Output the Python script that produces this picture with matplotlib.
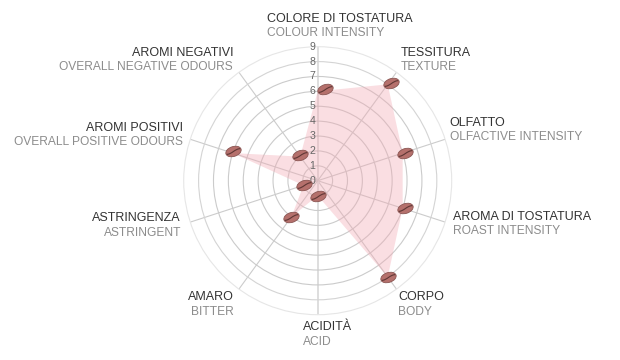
import numpy as np
import matplotlib
matplotlib.use("Agg")
import matplotlib.pyplot as plt
from matplotlib.markers import MarkerStyle
from matplotlib.path import Path
from matplotlib.transforms import Affine2D, ScaledTranslation

plt.rcParams["font.family"] = ["Liberation Sans", "DejaVu Sans"]

# One entry per spoke, clockwise from the top
labels_it = ["COLORE DI TOSTATURA", "TESSITURA", "OLFATTO", "AROMA DI TOSTATURA", "CORPO",
             "ACIDITÀ", "AMARO", "ASTRINGENZA", "AROMI POSITIVI", "AROMI NEGATIVI"]
labels_en = ["COLOUR INTENSITY", "TEXTURE", "OLFACTIVE INTENSITY", "ROAST INTENSITY", "BODY",
             "ACID", "BITTER", "ASTRINGENT", "OVERALL POSITIVE ODOURS", "OVERALL NEGATIVE ODOURS"]
values = [6, 8, 6, 6, 8, 1, 3, 1, 6, 2]
rings = [1, 2, 3, 4, 5, 6, 7, 8, 9]

# Label anchors in pixels from the top left: x, y of first line, alignment
label_x = [267, 401, 449.5, 453, 398, 303, 234, 181, 183, 233]
label_y = [19, 52.5, 122.5, 216.5, 297.5, 327.5, 297.5, 218.5, 127.5, 52.5]
label_ha = ["left"] * 6 + ["right"] * 4
# The bean images are not quite centred on their points
bean_dx = [7, 3, 2, 2, 0, 0, 0, 0, 0, 0]
bean_dy = [2, 1, 0, 0, 0, 0, 0, 0, 2, 2]

W, H = 620, 360
cx, cy, radius = 317.7, 180.7, 134

fig = plt.figure(figsize=(W / 100, H / 100), dpi=100)
ax = fig.add_axes([(cx - radius) / W, (H - cy - radius) / H, 2 * radius / W, 2 * radius / H],
                  projection="polar")
ax.set_theta_zero_location("N")
ax.set_theta_direction(-1)
ax.set_rlim(0, 9)
ax.set_axisbelow(True)

angles = np.deg2rad(np.arange(len(values)) * 36)
ax.set_xticks(angles)
ax.set_xticklabels([])
ax.set_yticks(rings)
ax.set_yticklabels([])
ax.tick_params(length=0)
ax.spines["polar"].set_visible(False)

# Rings fade towards the outside, the vertical spoke is paler and wider
for r, line in zip(rings, ax.yaxis.get_gridlines()):
    color = {8: "#d4d4d4", 9: "#e6e6e6"}.get(r, "#cbcbcb")
    line.set(color=color, linewidth=0.8, linestyle="-", clip_on=False)
for i, line in enumerate(ax.xaxis.get_gridlines()):
    if i in (0, 5):
        line.set(color="#dedede", linewidth=1.4, linestyle="-")
    else:
        line.set(color="#cccccc", linewidth=0.8, linestyle="-")

ax.fill(np.append(angles, angles[0]), values + values[:1], color="#f2a9b3", alpha=0.38,
        linewidth=0, zorder=2)

for r in [0] + rings:
    ax.annotate(str(r), (0, r), xytext=(-1.6, 0), textcoords="offset points", ha="right",
                va="center", fontsize=7.6, color="#666666", zorder=3, annotation_clip=False)

# Coffee bean marker: body, pale highlight and dark slit
rot = Affine2D().scale(1, 0.62).rotate_deg(18)
slit = Path([(-0.9, -0.12), (-0.35, -0.45), (0.3, 0.45), (0.9, 0.12)],
            [Path.MOVETO, Path.CURVE4, Path.CURVE4, Path.CURVE4])
for i, (a, v) in enumerate(zip(angles, values)):
    shift = ScaledTranslation(bean_dx[i] * 0.72 / 72, bean_dy[i] * 0.72 / 72, fig.dpi_scale_trans)
    tr = ax.transData + shift
    ax.plot([a], [v], transform=tr, marker=MarkerStyle("o", transform=rot), ms=11.4, mfc="#b5706c",
            mec="#8a5552", mew=0.6, zorder=4, clip_on=False, linestyle="none")
    ax.plot([a], [v], transform=tr, marker=MarkerStyle(slit, fillstyle="none", transform=Affine2D().scale(1, 0.62).rotate_deg(18)),
            ms=10.5, mec="#5e3634", mew=0.8, zorder=5, clip_on=False, linestyle="none")

for it, en, x, y, ha in zip(labels_it, labels_en, label_x, label_y, label_ha):
    fig.text(x / W, 1 - y / H, it, ha=ha, va="center", fontsize=9.0, color="#333333")
    fig.text(x / W, 1 - (y + 14.5) / H, en, ha=ha, va="center", fontsize=8.65, color="#8c8c8c")

fig.savefig("out.png", dpi=100)
